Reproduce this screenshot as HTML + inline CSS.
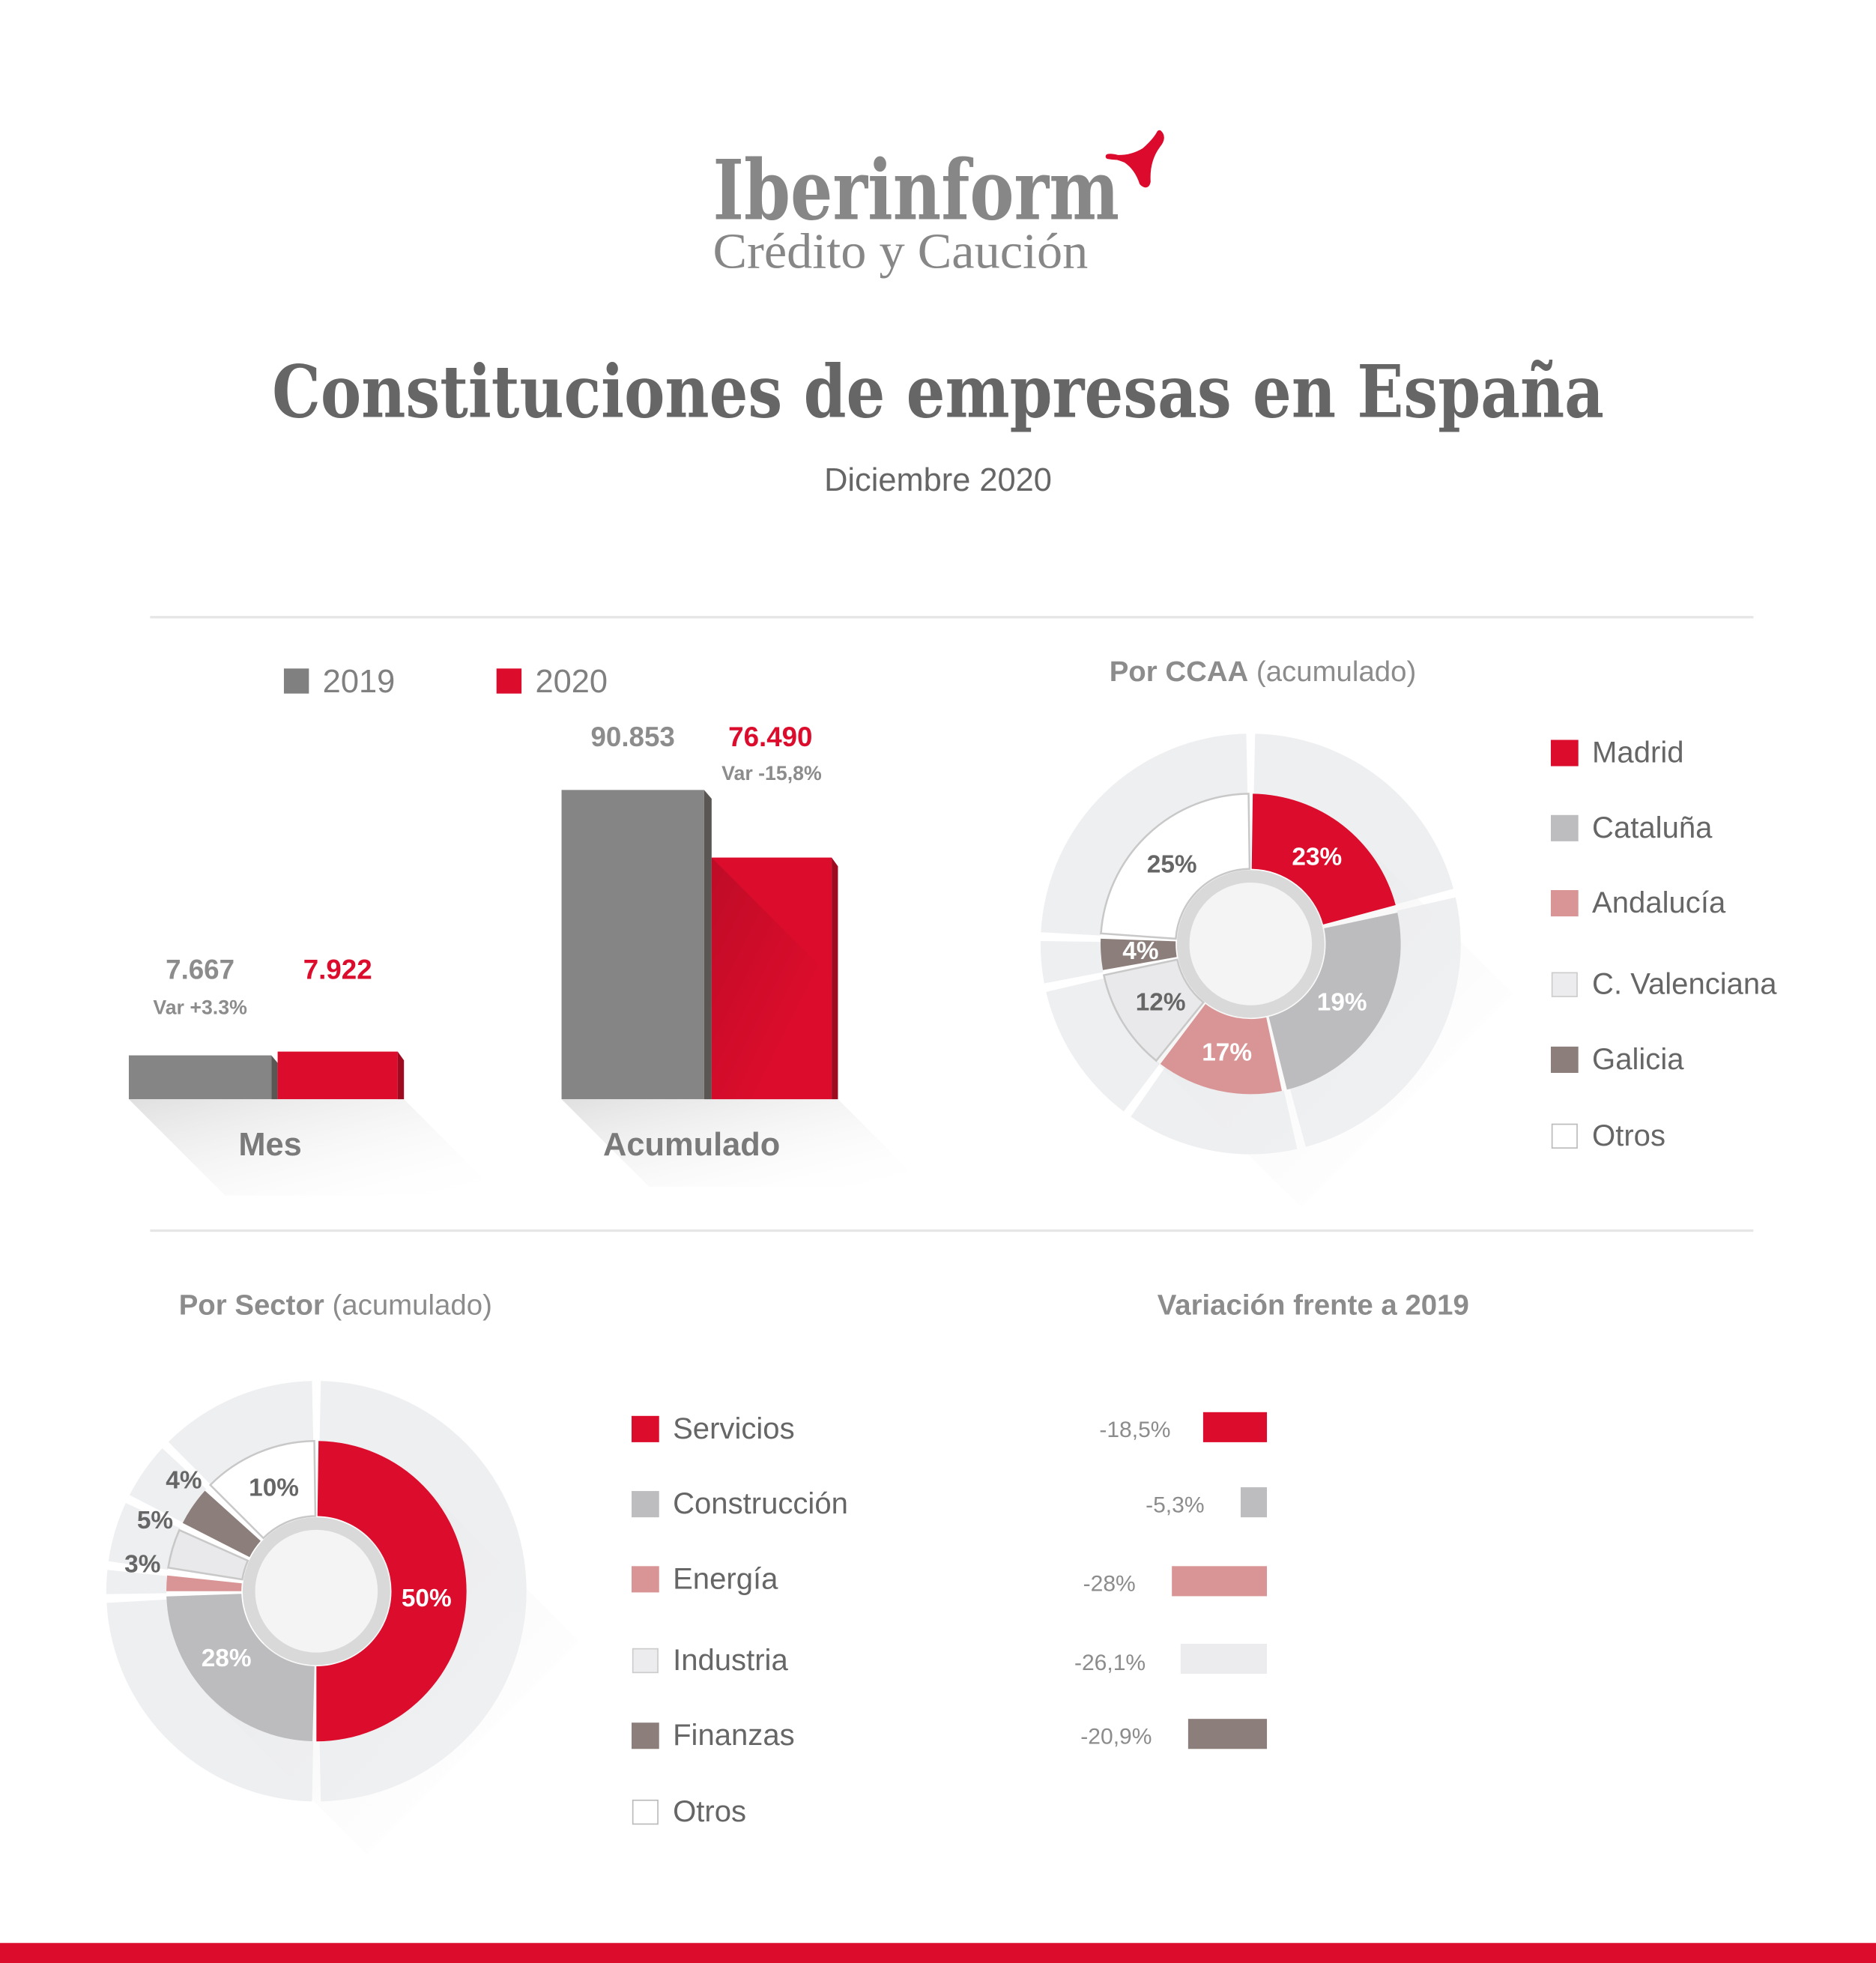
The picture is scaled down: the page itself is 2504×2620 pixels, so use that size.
<!DOCTYPE html>
<html><head><meta charset="utf-8">
<style>
html,body{margin:0;padding:0;background:#fff;}
svg{display:block;}
text{font-family:"Liberation Sans","DejaVu Sans",sans-serif;}
.b{font-weight:bold;}
.serif{font-family:"Liberation Serif","DejaVu Serif",serif;}
.dserif{font-family:"DejaVu Serif","Liberation Serif",serif;}
</style></head>
<body>
<svg id="s" width="2504" height="2620" viewBox="0 0 1500 1568" preserveAspectRatio="none" xmlns="http://www.w3.org/2000/svg">
<defs>
<linearGradient id="sh" x1="0" y1="0" x2="1" y2="1">
<stop offset="0" stop-color="#dcdcdc" stop-opacity="0.9"/><stop offset="1" stop-color="#ffffff" stop-opacity="0"/>
</linearGradient>
<linearGradient id="rs" x1="0" y1="0" x2="1" y2="1">
<stop offset="0" stop-color="#a00c22"/><stop offset="0.7" stop-color="#dc0c2c"/>
</linearGradient>
</defs>
<rect width="1500" height="1568" fill="#fff"/>

<!-- logo -->
<text x="570" y="175" class="dserif" font-weight="bold" font-size="66" fill="#878787" textLength="325" lengthAdjust="spacingAndGlyphs">Iberinform</text>
<text x="570" y="214" class="serif" font-size="40" fill="#878787" textLength="300" lengthAdjust="spacingAndGlyphs">Crédito y Caución</text>
<path d="M886,125 Q902,128 915,120 Q924,112 927,106 Q931,110 926,116 Q917,128 918,145 Q917,150 913,146 Q909,134 900,128 Q890,124 886,125Z" fill="#dc0a2c" stroke="#dc0a2c" stroke-width="4" stroke-linejoin="round"/>

<text x="750" y="333" text-anchor="middle" class="dserif" font-weight="bold" font-size="58" fill="#666" textLength="1065" lengthAdjust="spacingAndGlyphs">Constituciones de empresas en España</text>
<text x="750" y="392" text-anchor="middle" font-size="26" fill="#666">Diciembre 2020</text>

<line x1="120" y1="493" x2="1402" y2="493" stroke="#e6e6e6" stroke-width="2"/>
<line x1="120" y1="983" x2="1402" y2="983" stroke="#e6e6e6" stroke-width="2"/>

<!-- legend -->
<rect x="227" y="534" width="20" height="20" fill="#808080"/>
<text x="258" y="553" font-size="26" fill="#808080">2019</text>
<rect x="397" y="534" width="20" height="20" fill="#dc0c2c"/>
<text x="428" y="553" font-size="26" fill="#808080">2020</text>

<!-- bar shadows -->
<polygon points="103,878 323,878 400,955 180,955" fill="url(#sh)"/>
<polygon points="449,878 670,878 740,948 519,948" fill="url(#sh)"/>

<!-- Mes bars -->
<rect x="103" y="843" width="114" height="35" fill="#858585"/>
<polygon points="217,843 222,849 222,878 217,878" fill="#5a5654"/>
<rect x="222" y="840" width="96" height="38" fill="#dc0c2c"/>
<polygon points="318,840 323,847 323,878 318,878" fill="#9e0a20"/>
<text x="160" y="782" text-anchor="middle" class="b" font-size="22" fill="#8c8c8c">7.667</text>
<text x="160" y="810" text-anchor="middle" class="b" font-size="16" fill="#8c8c8c">Var +3.3%</text>
<text x="270" y="782" text-anchor="middle" class="b" font-size="22" fill="#dc0c2c">7.922</text>
<text x="216" y="923" text-anchor="middle" class="b" font-size="26" fill="#7a7a7a">Mes</text>

<!-- Acumulado -->
<rect x="449" y="631" width="114" height="247" fill="#858585"/>
<polygon points="563,631 569,638 569,878 563,878" fill="#5a5654"/>
<rect x="569" y="685" width="96" height="193" fill="#dc0c2c"/>
<polygon points="569,685 665,781 665,878 569,878" fill="url(#rs)" opacity="0.5"/>
<polygon points="665,685 670,692 670,878 665,878" fill="#9e0a20"/>
<text x="506" y="596" text-anchor="middle" class="b" font-size="22" fill="#8c8c8c">90.853</text>
<text x="616" y="596" text-anchor="middle" class="b" font-size="22" fill="#dc0c2c">76.490</text>
<text x="617" y="623" text-anchor="middle" class="b" font-size="16" fill="#8c8c8c">Var -15,8%</text>
<text x="553" y="923" text-anchor="middle" class="b" font-size="26" fill="#7a7a7a">Acumulado</text>

<!-- CCAA -->
<text x="887" y="544" font-size="23" fill="#8c8c8c"><tspan class="b">Por CCAA</tspan> (acumulado)</text>
<g id="ccaa"></g>
<g font-size="24" fill="#666">
<rect x="1240" y="591" width="22" height="21" fill="#dc0c2c"/><text x="1273" y="609">Madrid</text>
<rect x="1240" y="651" width="22" height="21" fill="#bdbdbf"/><text x="1273" y="669">Cataluña</text>
<rect x="1240" y="711" width="22" height="21" fill="#d99595"/><text x="1273" y="729">Andalucía</text>
<rect x="1241" y="777" width="20" height="19" fill="#ececee" stroke="#ccc"/><text x="1273" y="794">C. Valenciana</text>
<rect x="1240" y="836" width="22" height="21" fill="#8c7f7b"/><text x="1273" y="854">Galicia</text>
<rect x="1241" y="898" width="20" height="19" fill="#fff" stroke="#bbb"/><text x="1273" y="915">Otros</text>
</g>

<!-- Sector -->
<text x="143" y="1050" font-size="23" fill="#8c8c8c"><tspan class="b">Por Sector</tspan> (acumulado)</text>
<g id="sec"></g>
<g font-size="24" fill="#666">
<rect x="505" y="1131" width="22" height="21" fill="#dc0c2c"/><text x="538" y="1149">Servicios</text>
<rect x="505" y="1191" width="22" height="21" fill="#bdbdbf"/><text x="538" y="1209">Construcción</text>
<rect x="505" y="1251" width="22" height="21" fill="#d99595"/><text x="538" y="1269">Energía</text>
<rect x="506" y="1317" width="20" height="19" fill="#ececee" stroke="#ccc"/><text x="538" y="1334">Industria</text>
<rect x="505" y="1376" width="22" height="21" fill="#8c7f7b"/><text x="538" y="1394">Finanzas</text>
<rect x="506" y="1438" width="20" height="19" fill="#fff" stroke="#bbb"/><text x="538" y="1455">Otros</text>
</g>

<!-- Variacion -->
<text x="1050" y="1050" text-anchor="middle" class="b" font-size="23" fill="#8c8c8c">Variación frente a 2019</text>
<g font-size="18" fill="#8c8c8c" text-anchor="end">
<rect x="962" y="1128" width="51" height="24" fill="#dc0c2c"/><text x="936" y="1148">-18,5%</text>
<rect x="992" y="1188" width="21" height="24" fill="#bdbdbf"/><text x="963" y="1208">-5,3%</text>
<rect x="937" y="1251" width="76" height="24" fill="#d99595"/><text x="908" y="1271">-28%</text>
<rect x="944" y="1313" width="69" height="24" fill="#ececee"/><text x="916" y="1334">-26,1%</text>
<rect x="950" y="1373" width="63" height="24" fill="#8c7f7b"/><text x="921" y="1393">-20,9%</text>
</g>

<rect x="0" y="1552" width="1500" height="16" fill="#dc0c2c"/>
</svg>
<script>
function P(a,r,cx,cy){var t=(a-90)*Math.PI/180;return [cx+r*Math.cos(t),cy+r*Math.sin(t)];}
function arc(cx,cy,r0,r1,a0,a1){var l=(a1-a0)>180?1:0;var p=P(a0,r1,cx,cy),q=P(a1,r1,cx,cy),s=P(a1,r0,cx,cy),u=P(a0,r0,cx,cy);
return "M"+p+" A"+r1+","+r1+" 0 "+l+" 1 "+q+" L"+s+" A"+r0+","+r0+" 0 "+l+" 0 "+u+"Z";}
var NS="http://www.w3.org/2000/svg";
function add(g,tag,at){var e=document.createElementNS(NS,tag);for(var k in at)e.setAttribute(k,at[k]);g.appendChild(e);return e;}
function donut(id,cx,cy,segs,outerGaps,labels){
 var g=document.getElementById(id);
 for(var i=0;i<outerGaps.length;i++){var a0=outerGaps[i]+1.2,a1=(i+1<outerGaps.length?outerGaps[i+1]:outerGaps[0]+360)-1.2;
  add(g,"path",{d:arc(cx,cy,120,168,a0,a1),fill:"#eeeff1"});}
 add(g,"polygon",{points:(cx+85)+","+(cy-85)+" "+(cx+210)+","+(cy+40)+" "+(cx+40)+","+(cy+210)+" "+(cx-85)+","+(cy+85),fill:"url(#sh)",opacity:"0.6"});
 segs.forEach(function(s){add(g,"path",{d:arc(cx,cy,60,120,s[0],s[1]),fill:s[2],stroke:s[3]||"none","stroke-width":"1.5"});});
 add(g,"circle",{cx:cx,cy:cy,r:54,fill:"#f4f4f4",stroke:"#d9d9d9","stroke-width":"10"});
 labels.forEach(function(l){var t=add(g,"text",{x:l[0],y:l[1],"text-anchor":"middle","font-size":"20","font-weight":"bold",fill:l[3]});t.textContent=l[2];});
}
donut("ccaa",1000,754,[
 [0.8,75,"#dc0c2c"],[78,166,"#bcbcbe"],[168,217,"#d99595"],[219,258,"#e9e9eb","#c8c8c8"],[260,272,"#8c7f7b"],[274,359.2,"#ffffff","#c8c8c8"]],
 [0,76,166,216,258,272],
 [[1053,691,"23%","#fff"],[1073,807,"19%","#fff"],[981,847,"17%","#fff"],[928,807,"12%","#666"],[912,766,"4%","#fff"],[937,697,"25%","#666"]]);
donut("sec",253,1271,[
 [0.8,180,"#dc0c2c"],[181.5,268,"#bcbcbe"],[270,276,"#d99595"],[279,294,"#e9e9eb","#c8c8c8"],[297,312,"#8c7f7b"],[315,359.2,"#ffffff","#c8c8c8"]],
 [0,180,268,277,296,314],
 [[341,1283,"50%","#fff"],[181,1331,"28%","#fff"],[114,1256,"3%","#666"],[124,1221,"5%","#666"],[147,1189,"4%","#666"],[219,1195,"10%","#666"]]);
</script>
</body></html>
